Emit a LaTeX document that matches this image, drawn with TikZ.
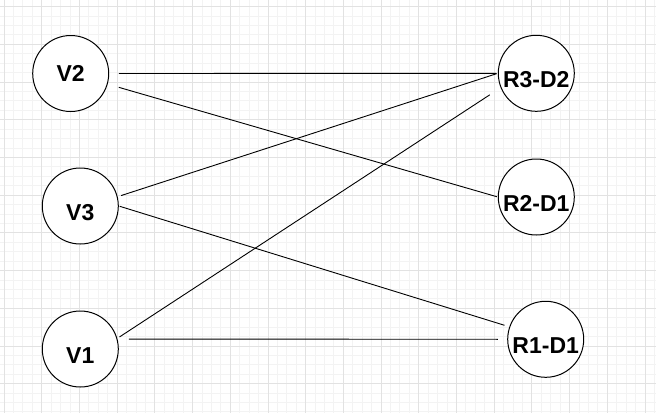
\documentclass[tikz,border=0pt]{standalone}
\usepackage{fontspec}
\setmainfont{Liberation Sans}
\usetikzlibrary{positioning}
\definecolor{gridminor}{HTML}{F3F3F3}
\definecolor{gridmajor}{HTML}{E2E2E2}
\tikzset{
  vert/.style={circle,draw,line width=1pt,minimum size=76pt,inner sep=0pt,fill=white,
    font=\bfseries\fontsize{23}{23}\selectfont},
  low/.style={text height=28.5pt,text depth=0pt},
  link/.style={line width=0.9pt}
}
\begin{document}
\begin{tikzpicture}[x=1pt,y=-1pt]
    \useasboundingbox (0,0) rectangle (656,413);
    \fill[white] (0,0) rectangle (656,413);
    \foreach \k in {0,...,69} \draw[gridminor,line width=0.8pt] ({4+9.425*\k},0) -- ({4+9.425*\k},413);
    \foreach \k in {0,...,43} \draw[gridminor,line width=0.8pt] (0,{6.6+9.425*\k}) -- (656,{6.6+9.425*\k});
    \foreach \k in {0,...,17} \draw[gridmajor,line width=0.8pt] ({4+37.7*\k},0) -- ({4+37.7*\k},413);
    \foreach \k in {0,...,10} \draw[gridmajor,line width=0.8pt] (0,{6.6+37.7*\k}) -- (656,{6.6+37.7*\k});

    \node[vert] (V2) at (70.7,73.5) {V2};
    \node[vert,low] (V3) at (80.3,206) {V3};
    \node[vert,low] (V1) at (80.3,349) {V1};

    \node[vert,low] (R3D2) at (536.3,73.3) {R3-D2};
    \node[vert,low] (R2D1) at (536.3,197) {R2-D1};
    \node[vert,low] (R1D1) at (545.7,339.3) {R1-D1};

    \draw[link,shorten <=9.6pt,shorten >=1.6pt] (V2.east) -- (R3D2.west);
    \draw[link,shorten <=11.6pt,shorten >=1pt] (V2.-16) -- (R2D1.west);
    \draw[link,shorten <=3.7pt,shorten >=1pt] (V3.14) -- (R3D2.west);
    \draw[link,shorten <=1pt,shorten >=5pt] (V3.east) -- (R1D1.161);
    \draw[link,shorten <=2.6pt,shorten >=13pt] (V1.16) -- (R3D2.202);
    \draw[link,shorten <=11.3pt,shorten >=9.4pt] (V1.15) -- (R1D1.west);
  \end{tikzpicture}
\end{document}
